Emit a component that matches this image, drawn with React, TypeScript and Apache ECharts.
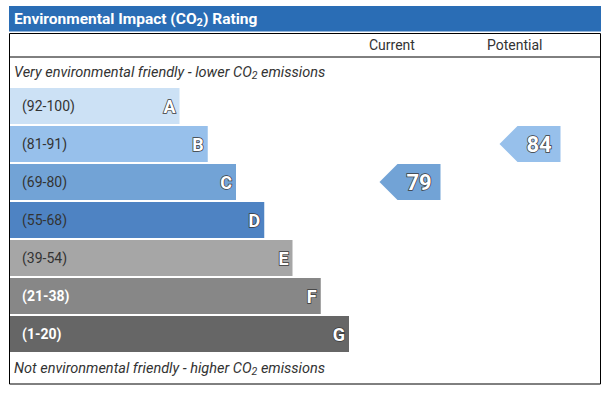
import React, { useEffect, useRef } from "react";
import * as echarts from "echarts";

const bandLetters = ["A", "B", "C", "D", "E", "F", "G"];
const bandRanges = ["(92-100)", "(81-91)", "(69-80)", "(55-68)", "(39-54)", "(21-38)", "(1-20)"];
const bandMin = [92, 81, 69, 55, 39, 21, 1];
const bandLengths = [6, 7, 8, 9, 10, 11, 12];
const bandColors = ["#cce1f5", "#97c0eb", "#72a3d6", "#4e83c3", "#a6a6a6", "#878787", "#666666"];
const rangeTextColors = ["#333333", "#333333", "#333333", "#333333", "#333333", "#ffffff", "#ffffff"];
const rangeTextWeights = ["normal", "normal", "normal", "normal", "normal", "bold", "bold"];
const columnHeaders = ["Current", "Potential"];
const ratings = [79, 84];
const titleText = "Environmental Impact (CO{sub|2}) Rating";
const topNote = "Very environmental friendly - lower CO{sub|2} emissions";
const bottomNote = "Not environmental friendly - higher CO{sub|2} emissions";

const FONT = "Roboto, 'Noto Sans', sans-serif";

function bandIndexOf(v: number): number {
  for (let i = 0; i < bandMin.length; i++) if (v >= bandMin[i]) return i;
  return bandMin.length - 1;
}

export default function App() {
  const ref = useRef<HTMLDivElement>(null);
  useEffect(() => {
    if (!ref.current) return;
    const chart = echarts.init(ref.current, null, { renderer: "svg" });
    const arrowData = ratings.map((r, i) => [i, bandIndexOf(r), r]);
    const option: any = {
      animation: false,
      backgroundColor: "#ffffff",
      grid: [
        { left: 10, top: 87, width: 339, height: 266 },
        { left: 350, top: 87, width: 240, height: 266 },
      ],
      xAxis: [
        { type: "value", gridIndex: 0, min: 0, max: 12, show: false },
        { type: "category", gridIndex: 1, data: columnHeaders, show: false },
      ],
      yAxis: [
        { type: "category", gridIndex: 0, data: bandLetters, inverse: true, show: false },
        { type: "category", gridIndex: 1, data: bandLetters, inverse: true, show: false },
      ],
      graphic: [
        {
          type: "rect",
          shape: { x: 9, y: 6, width: 592, height: 25.5 },
          style: { fill: "#2a6db5" },
        },
        {
          type: "text",
          x: 14,
          y: 19,
          style: {
            text: titleText,
            fill: "#ffffff",
            font: `bold 15.5px ${FONT}`,
            verticalAlign: "middle",
            rich: {
              sub: { fontSize: 11, fontWeight: "bold", fill: "#ffffff", padding: [6, 0, 0, 0], fontFamily: FONT },
            },
          },
        },
        {
          type: "rect",
          shape: { x: 9.5, y: 33.5, width: 591, height: 350.5 },
          style: { fill: "none", stroke: "#000000", lineWidth: 1 },
        },
        {
          type: "line",
          shape: { x1: 9.5, y1: 57, x2: 600.5, y2: 57 },
          style: { stroke: "#000000", lineWidth: 1 },
        },
        {
          type: "text",
          x: 369,
          y: 45,
          style: { text: columnHeaders[0], fill: "#333333", font: `14px ${FONT}`, verticalAlign: "middle" },
        },
        {
          type: "text",
          x: 487,
          y: 45,
          style: { text: columnHeaders[1], fill: "#333333", font: `14px ${FONT}`, verticalAlign: "middle" },
        },
        {
          type: "text",
          x: 14,
          y: 72,
          style: {
            text: topNote,
            fill: "#333333",
            font: `italic 14.5px ${FONT}`,
            verticalAlign: "middle",
            rich: {
              sub: { fontSize: 10.5, fontStyle: "italic", fill: "#333333", padding: [6, 0, 0, 0], fontFamily: FONT },
            },
          },
        },
        {
          type: "text",
          x: 14,
          y: 368,
          style: {
            text: bottomNote,
            fill: "#333333",
            font: `italic 14.5px ${FONT}`,
            verticalAlign: "middle",
            rich: {
              sub: { fontSize: 10.5, fontStyle: "italic", fill: "#333333", padding: [6, 0, 0, 0], fontFamily: FONT },
            },
          },
        },
      ],
      series: [
        {
          type: "bar",
          xAxisIndex: 0,
          yAxisIndex: 0,
          barWidth: 36,
          data: bandLengths.map((v, i) => ({
            value: v,
            itemStyle: { color: bandColors[i] },
            label: {
              show: true,
              position: "insideLeft",
              distance: 12,
              formatter: bandRanges[i],
              color: rangeTextColors[i],
              fontWeight: rangeTextWeights[i],
              fontSize: 14,
              fontFamily: FONT,
            },
          })),
        },
        {
          type: "bar",
          xAxisIndex: 0,
          yAxisIndex: 0,
          barWidth: 36,
          barGap: "-100%",
          itemStyle: { color: "rgba(0,0,0,0)" },
          data: bandLengths.map((v, i) => ({
            value: v,
            label: {
              show: true,
              position: "insideRight",
              distance: 4,
              formatter: bandLetters[i],
              color: "#ffffff",
              textBorderColor: "#3a3a3a",
              textBorderWidth: 1.5,
              fontWeight: "bold",
              fontSize: 18,
              fontFamily: FONT,
            },
          })),
        },
        {
          type: "custom",
          xAxisIndex: 1,
          yAxisIndex: 1,
          data: arrowData,
          renderItem: (params: any, api: any) => {
            const c = api.coord([api.value(0), api.value(1)]);
            const cx = c[0];
            const cy = c[1];
            const h = 18;
            const color = bandColors[api.value(1)];
            return {
              type: "group",
              children: [
                {
                  type: "polygon",
                  shape: {
                    points: [
                      [cx - 30.5, cy],
                      [cx - 12.5, cy - h],
                      [cx + 30.5, cy - h],
                      [cx + 30.5, cy + h],
                      [cx - 12.5, cy + h],
                    ],
                  },
                  style: { fill: color },
                },
                {
                  type: "text",
                  x: cx + 9,
                  y: cy,
                  style: {
                    text: String(api.value(2)),
                    fill: "#ffffff",
                    stroke: "#3a3a3a",
                    lineWidth: 1.5,
                    font: `bold 22px ${FONT}`,
                    align: "center",
                    verticalAlign: "middle",
                  },
                },
              ],
            };
          },
        },
      ],
    };
    chart.setOption(option);
    return () => chart.dispose();
  }, []);
  return <div ref={ref} style={{ position: "absolute", left: 0, top: 0, width: 609, height: 394 }} />;
}
